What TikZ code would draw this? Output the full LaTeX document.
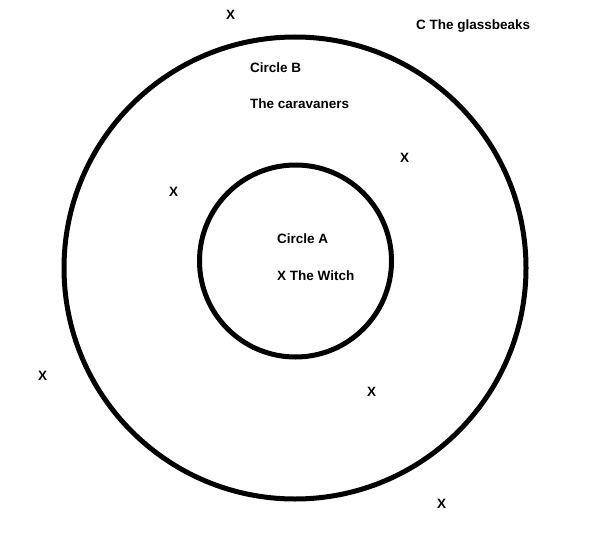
\documentclass[tikz,border=0pt]{standalone}
\usepackage{fontspec}
\setmainfont{Liberation Sans}
\usepackage{tikz}
\usetikzlibrary{positioning}

\begin{document}
\begin{tikzpicture}[
    x=1pt, y=-1pt,
    every node/.style={font=\bfseries\fontsize{13.5}{16}\selectfont, inner sep=0pt, anchor=west},
    ring/.style={draw, circle, line width=5pt, minimum size=#1, anchor=center}
]
\useasboundingbox (0,0) rectangle (596,532);
% the two circles
\node[ring=462pt] (circB) at (295,268) {};
\node[ring=192pt] (circA) at (295.5,261) {};
% labels
\node (markTop) at (226,15) {X};
\node (glassbeaks) at (416,26) {C The glassbeaks};
\node (labelB) at (250,68) {Circle B};
\node (caravaners) at (250,104) {The caravaners};
\node (markBa) at (400,158) {X};
\node (markBb) at (169,192) {X};
\node (labelA) at (277,239) {Circle A};
\node (witch) at (277,276) {X The Witch};
\node (markLeft) at (38,376) {X};
\node (markBc) at (367,392) {X};
\node (markLow) at (437,504) {X};
\end{tikzpicture}
\end{document}
